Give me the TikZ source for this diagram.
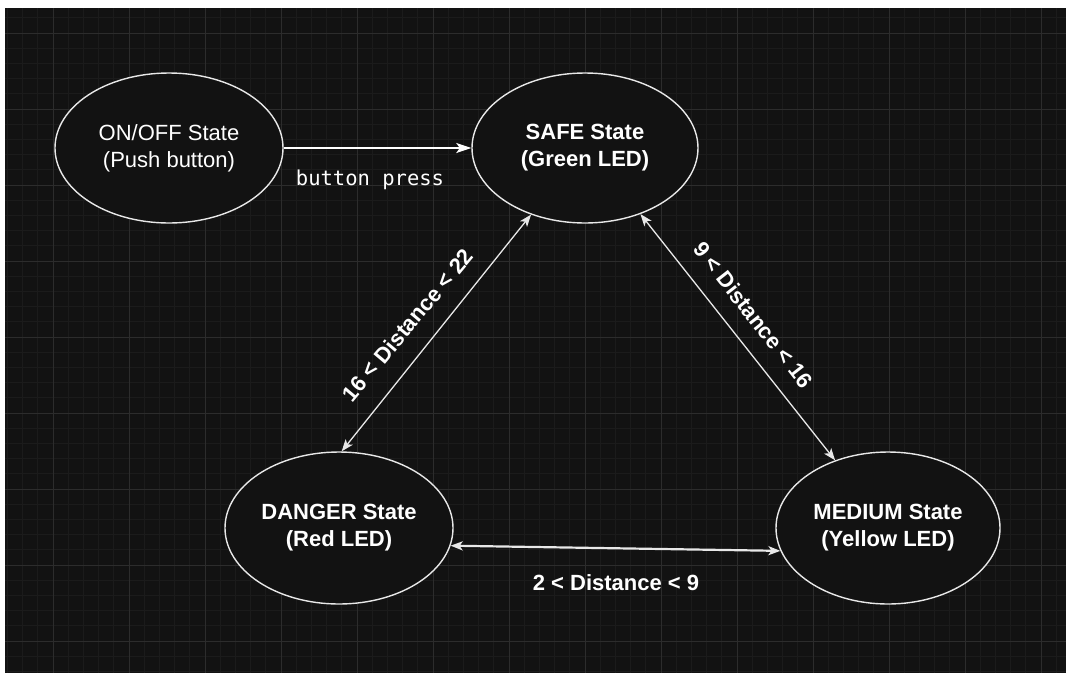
\documentclass[tikz,border=0pt]{standalone}
\usepackage{fontspec}
\setmainfont{Liberation Sans}
\newfontfamily\monofont{DejaVu Sans Mono}
\usetikzlibrary{shapes.geometric,arrows.meta}
\definecolor{bgc}{HTML}{121212}
\definecolor{minorc}{HTML}{1B1B1B}
\definecolor{majorc}{HTML}{2C2C2C}
\definecolor{linec}{HTML}{E8E8E8}
\begin{document}
\begin{tikzpicture}[x=1pt,y=-1pt,
  state/.style={ellipse,draw=linec,line width=1.4pt,fill=bgc,text=white,
    inner sep=0pt,align=center,font=\fontsize{22}{27}\selectfont},
  boldstate/.style={state,font=\fontsize{22}{27}\selectfont\bfseries},
  conn/.style={draw=linec,line width=1.3pt,
    arrows={Stealth[length=12pt,width=9pt,inset=3pt]-Stealth[length=12pt,width=9pt,inset=3pt]}},
  elabel/.style={text=white,font=\fontsize{22}{26}\selectfont\bfseries,inner sep=0pt}]
\useasboundingbox (0,0) rectangle (1066,673);
\fill[white] (0,0) rectangle (1066,673);
\fill[bgc] (5,8) rectangle (1066,673);
\begin{scope}
\clip (5,8) rectangle (1066,673);
\foreach \i in {0,...,72} \draw[minorc,line width=1pt] ({7.4+\i*15.2},8) -- ({7.4+\i*15.2},673);
\foreach \i in {0,...,44} \draw[minorc,line width=1pt] (5,{17.8+\i*15.2}) -- (1066,{17.8+\i*15.2});
\foreach \i in {0,...,13} \draw[majorc,line width=1pt] ({53+\i*76},8) -- ({53+\i*76},673);
\foreach \i in {0,...,8} \draw[majorc,line width=1pt] (5,{33+\i*76}) -- (1066,{33+\i*76});
\end{scope}
% states
\node[state,minimum width=228pt,minimum height=150pt] (on) at (169,148) {ON/OFF State\\(Push button)};
\node[boldstate,minimum width=226pt,minimum height=150pt] (safe) at (585,148) {SAFE State\\(Green LED)};
\node[boldstate,minimum width=228pt,minimum height=152pt] (danger) at (339,528) {DANGER State\\(Red LED)};
\node[boldstate,minimum width=224pt,minimum height=152pt] (medium) at (888,528) {MEDIUM State\\(Yellow LED)};
% connectors
\draw[draw=white,line width=2pt,-{Stealth[length=15pt,width=10pt,inset=3.5pt]}] (on) -- (safe);
\draw[conn] (danger.88) -- (safe.231);
\draw[conn] (safe.310) -- (medium.128);
\draw[conn,line width=2.2pt] (danger.-9) -- (medium.192);
% labels
\node[text=white,font=\monofont\fontsize{20.5}{24}\selectfont,anchor=base,inner sep=0pt] (lpress) at (370,185) {button press};
\node[elabel,rotate=50] (l1) at (407.5,325) {16 < Distance < 22};
\node[elabel,rotate=-52] (l2) at (753.5,315) {9 < Distance < 16};
\node[elabel,anchor=base] (l3) at (616,590) {2 < Distance < 9};
\end{tikzpicture}
\end{document}
